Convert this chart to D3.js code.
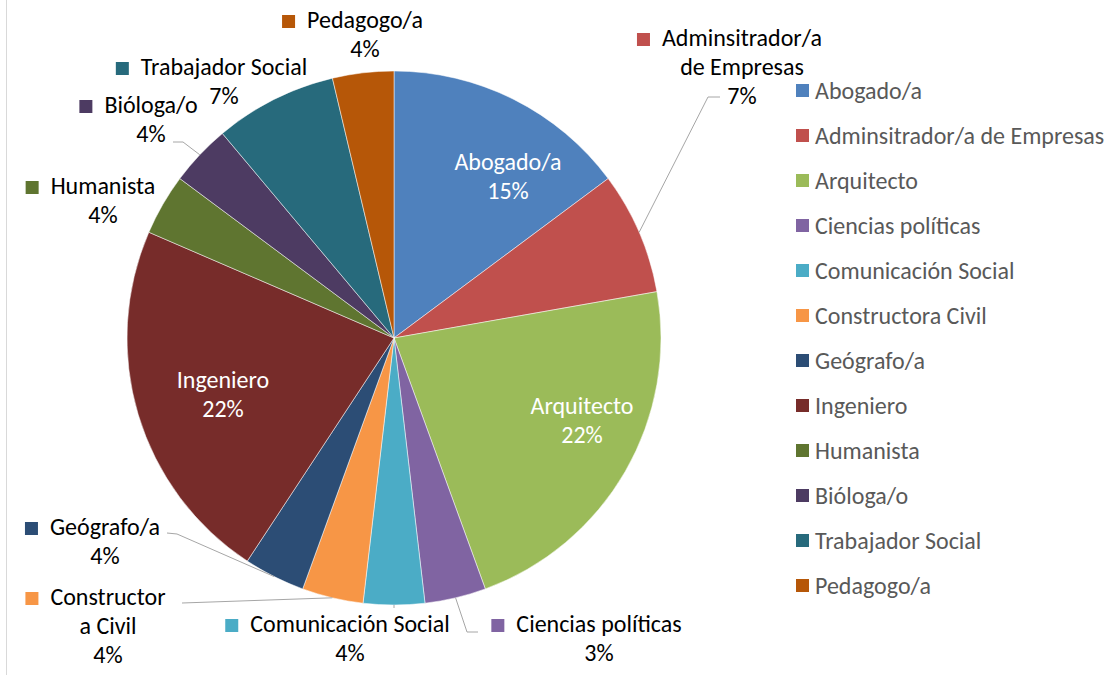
<!DOCTYPE html>
<html>
<head>
<meta charset="utf-8">
<script src="https://cdn.jsdelivr.net/npm/d3@7"></script>
<style>
  body { margin: 0; background: #fff; }
  svg text { font-family: Carlito, Calibri, Lato, sans-serif; font-size: 24px; }
</style>
</head>
<body>
<svg id="chart" width="1107" height="675"></svg>
<script>
// data (pie slices drawn from respondent counts)
const categories = ["Abogado/a", "Adminsitrador/a de Empresas", "Arquitecto", "Ciencias políticas",
  "Comunicación Social", "Constructora Civil", "Geógrafo/a", "Ingeniero", "Humanista",
  "Bióloga/o", "Trabajador Social", "Pedagogo/a"];
const counts = [4, 2, 6, 1, 1, 1, 1, 6, 1, 1, 2, 1];
const pctLabels = ["15%", "7%", "22%", "3%", "4%", "4%", "4%", "22%", "4%", "4%", "7%", "4%"];
const colors = ["#4F81BD", "#C0504D", "#9BBB59", "#8064A2", "#4BACC6", "#F79646",
  "#2C4D75", "#772C2A", "#5F7530", "#4D3B62", "#276A7C", "#B65708"];

// label layout: text lines, centre x, first baseline, inside flag, leader elbow points
const labelLayout = [
  { lines: ["Abogado/a"], cx: 508, y: 170, inside: true },
  { lines: ["Adminsitrador/a", "de Empresas"], cx: 742, y: 46, leader: [[708, 97], [720, 97]] },
  { lines: ["Arquitecto"], cx: 582, y: 414, inside: true },
  { lines: ["Ciencias políticas"], cx: 599, y: 632, leader: [[467, 632], [478, 632]] },
  { lines: ["Comunicación Social"], cx: 350, y: 632, leader: [[394, 608]] },
  { lines: ["Constructor", "a Civil"], cx: 108, y: 605, leader: [[182, 603]] },
  { lines: ["Geógrafo/a"], cx: 105, y: 535, leader: [[177, 534], [167, 533]] },
  { lines: ["Ingeniero"], cx: 223, y: 388, inside: true },
  { lines: ["Humanista"], cx: 103, y: 194 },
  { lines: ["Bióloga/o"], cx: 151, y: 113, leader: [[183, 142], [173, 142]] },
  { lines: ["Trabajador Social"], cx: 224, y: 75 },
  { lines: ["Pedagogo/a"], cx: 365, y: 28 }
];

const cx = 394, cy = 338, radius = 267;
const lineH = 29;

const svg = d3.select("#chart");

// frame line at the left
svg.append("line")
  .attr("x1", 6.5).attr("x2", 6.5).attr("y1", 0).attr("y2", 675)
  .attr("stroke", "#d9d9d9").attr("stroke-width", 1);

const pie = d3.pie().sort(null).value(d => d);
const arcs = pie(counts);
const arc = d3.arc().innerRadius(0).outerRadius(radius);

const g = svg.append("g").attr("transform", `translate(${cx},${cy})`);

g.selectAll("path.slice")
  .data(arcs)
  .enter().append("path")
  .attr("class", "slice")
  .attr("d", arc)
  .attr("fill", (d, i) => colors[i])
  .attr("stroke", "#ffffff")
  .attr("stroke-width", 0.5);

// leader lines from the slice edge at mid-angle to the label
arcs.forEach((d, i) => {
  const lay = labelLayout[i];
  if (!lay.leader) return;
  const mid = (d.startAngle + d.endAngle) / 2;
  const start = [cx + radius * Math.sin(mid), cy - radius * Math.cos(mid)];
  svg.append("polyline")
    .attr("points", [start].concat(lay.leader).map(p => p.join(",")).join(" "))
    .attr("fill", "none")
    .attr("stroke", "#a6a6a6")
    .attr("stroke-width", 1);
});

// data labels
labelLayout.forEach((lay, i) => {
  const lg = svg.append("g");
  const allLines = lay.lines.concat([pctLabels[i]]);
  allLines.forEach((t, k) => {
    const txt = lg.append("text")
      .attr("x", lay.cx)
      .attr("y", lay.y + k * lineH)
      .attr("text-anchor", "middle")
      .attr("fill", lay.inside ? "#ffffff" : "#000000")
      .text(t);
    if (k === 0 && !lay.inside) {
      const w = txt.node().getComputedTextLength();
      lg.append("rect")
        .attr("x", lay.cx - w / 2 - 25)
        .attr("y", lay.y - 13)
        .attr("width", 13).attr("height", 13)
        .attr("fill", colors[i]);
    }
  });
});

// legend
const legend = svg.append("g").attr("transform", "translate(796,0)");
const rows = legend.selectAll("g.row")
  .data(categories)
  .enter().append("g")
  .attr("class", "row")
  .attr("transform", (d, i) => `translate(0,${91 + i * 45})`);
rows.append("rect")
  .attr("x", 0).attr("y", -7)
  .attr("width", 13).attr("height", 13)
  .attr("fill", (d, i) => colors[i]);
rows.append("text")
  .attr("x", 19).attr("y", 8)
  .attr("fill", "#595959")
  .text(d => d);
</script>
</body>
</html>
